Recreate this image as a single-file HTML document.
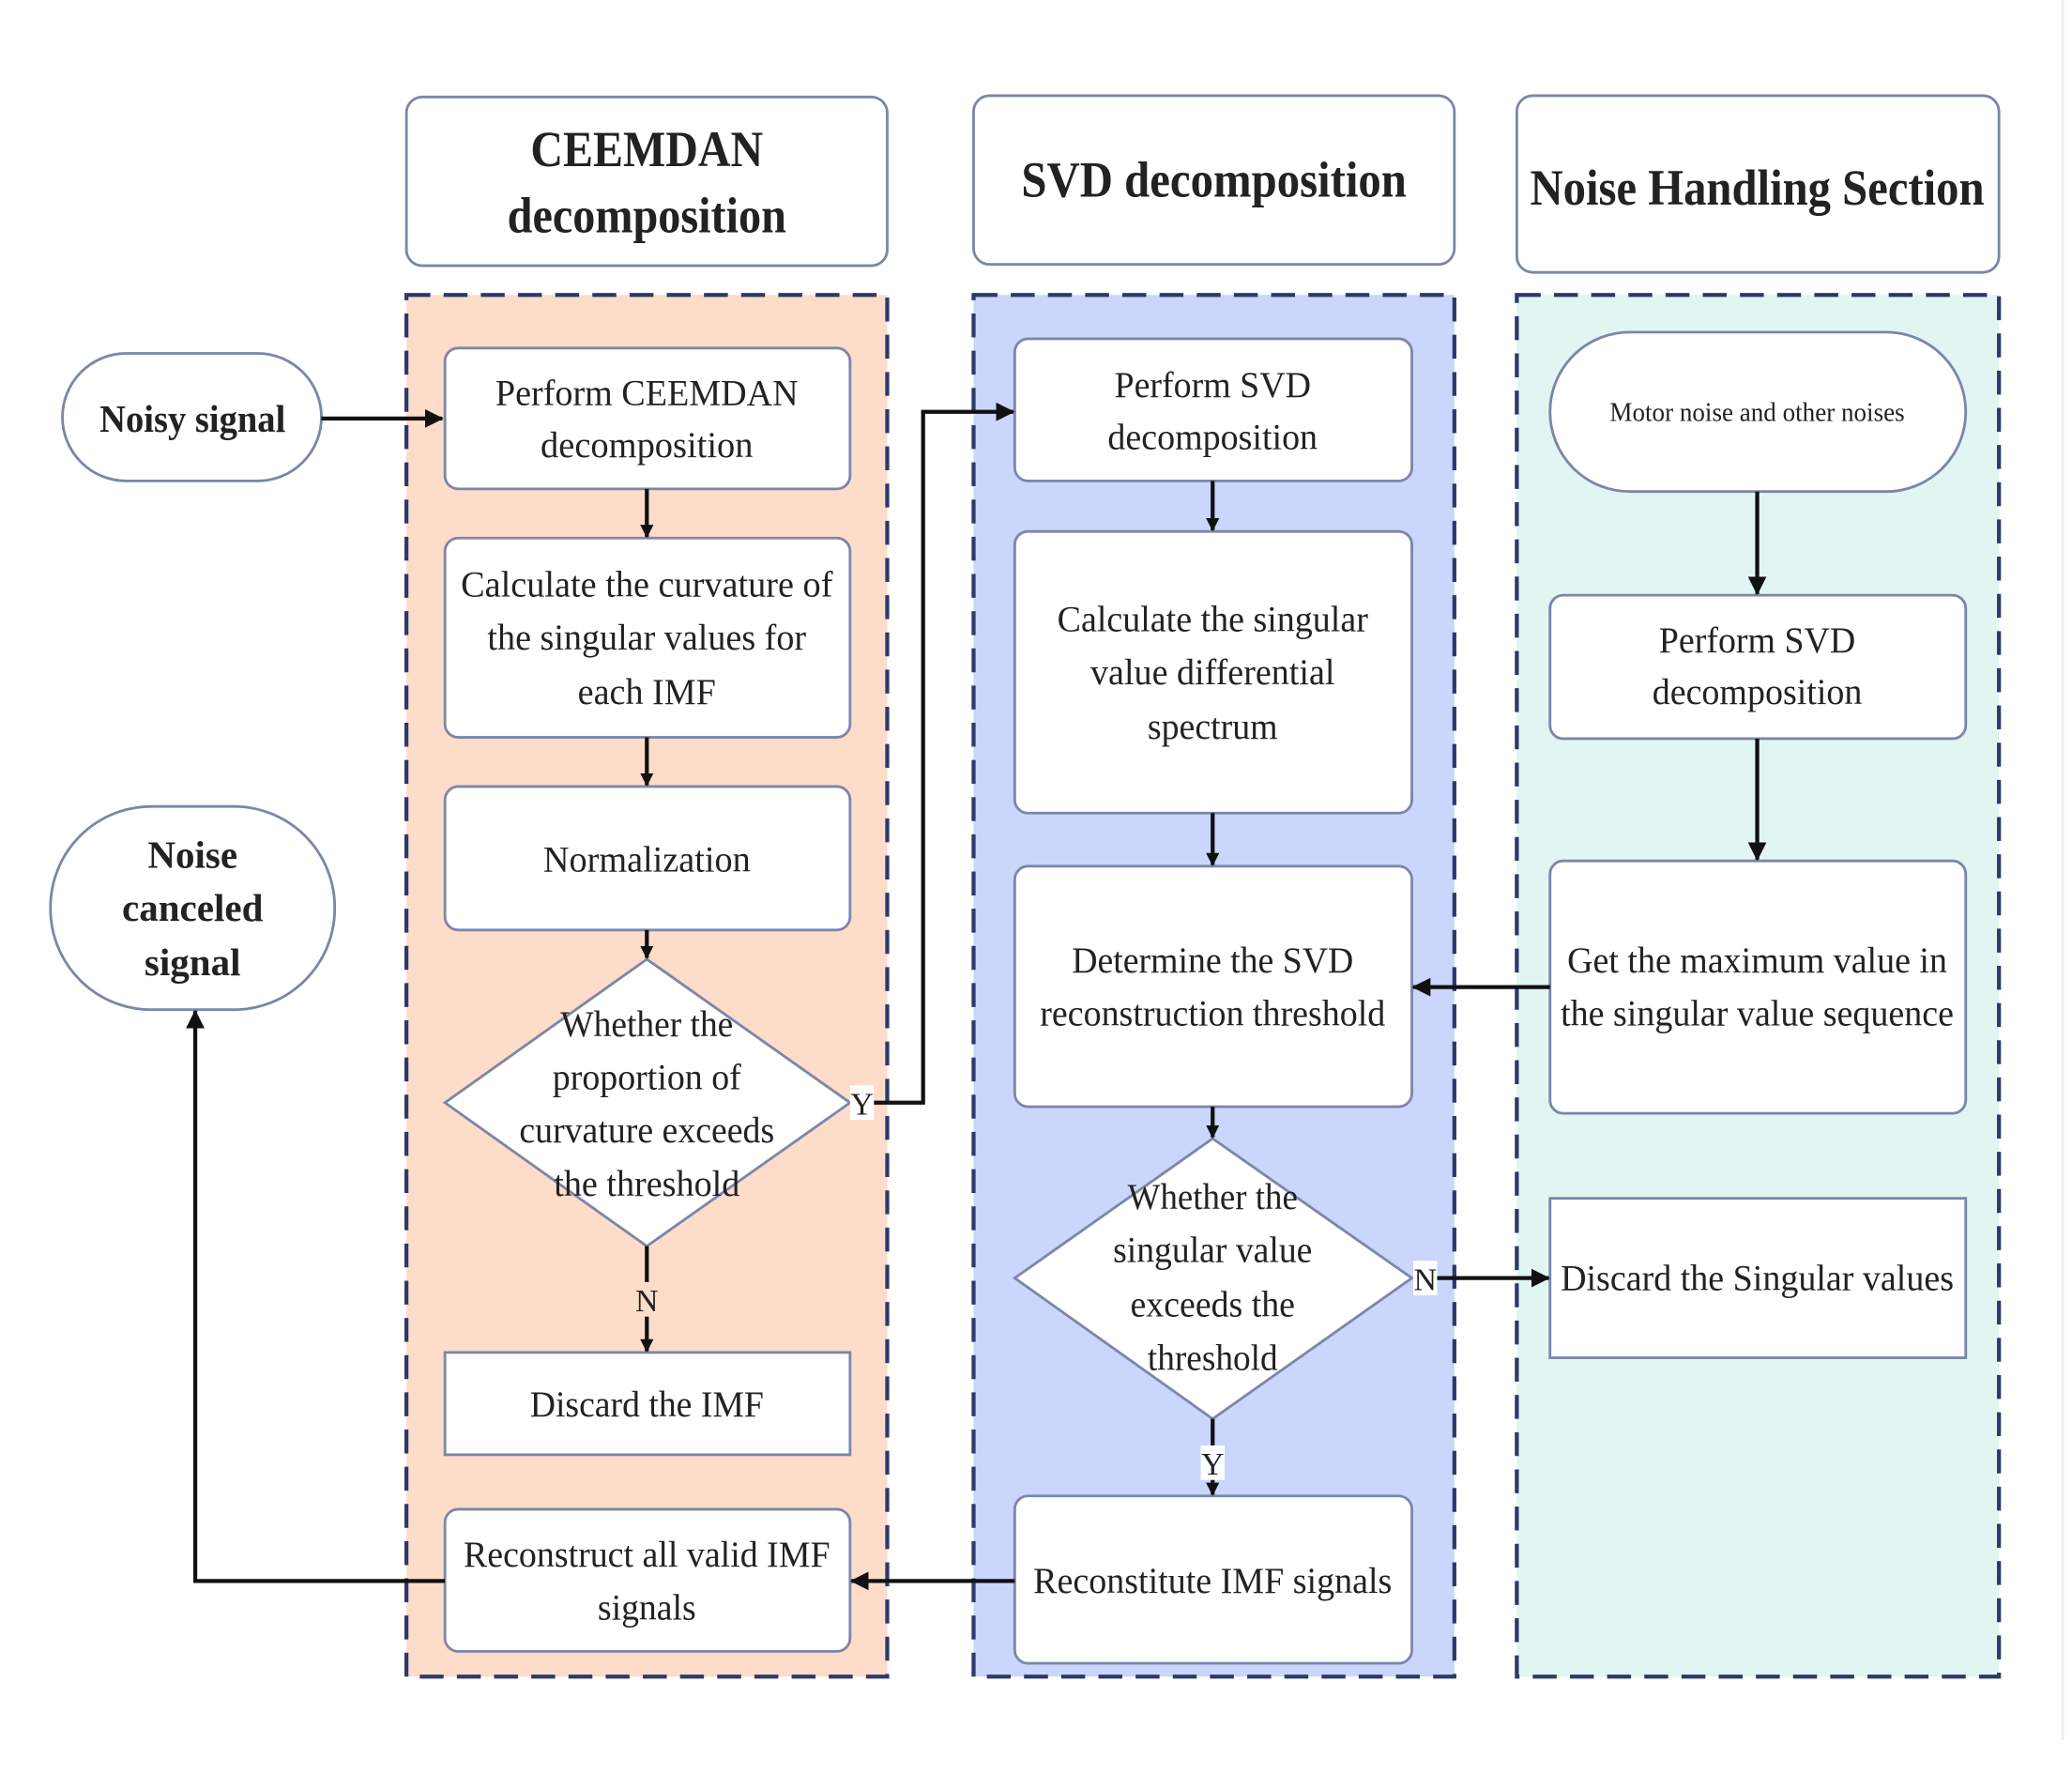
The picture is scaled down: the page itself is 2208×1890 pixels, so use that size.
<!DOCTYPE html>
<html><head><meta charset="utf-8"><style>
html,body{margin:0;padding:0;background:#fff;}
svg{display:block;}
text{font-family:"Liberation Serif",serif;fill:#222;}
</style></head><body>
<svg width="2208" height="1890" viewBox="0 0 1560 1335.3" preserveAspectRatio="none" xmlns="http://www.w3.org/2000/svg">
<defs>
<marker id="a" markerWidth="10" markerHeight="10" refX="9" refY="5" orient="auto" markerUnits="userSpaceOnUse"><path d="M0,0 L10,5 L0,10 z" fill="#111"/></marker>
<marker id="b" markerWidth="14" markerHeight="14" refX="13" refY="7" orient="auto" markerUnits="userSpaceOnUse"><path d="M0,0 L14,7 L0,14 z" fill="#111"/></marker>
</defs>
<line x1="1553" y1="0" x2="1553" y2="1310" stroke="#eee" stroke-width="2"/>
<!-- headers -->
<g fill="#fff" stroke="#7c86a8" stroke-width="2">
<rect x="306" y="73" width="362" height="127" rx="12"/>
<rect x="733" y="72" width="362" height="127" rx="12"/>
<rect x="1142" y="72" width="363" height="133" rx="12"/>
</g>
<g font-weight="bold" font-size="38" text-anchor="middle">
<text x="487" y="125" textLength="175" lengthAdjust="spacingAndGlyphs">CEEMDAN</text>
<text x="487" y="175" textLength="210" lengthAdjust="spacingAndGlyphs">decomposition</text>
<text x="914" y="148" textLength="290" lengthAdjust="spacingAndGlyphs">SVD decomposition</text>
<text x="1323" y="154" textLength="342" lengthAdjust="spacingAndGlyphs">Noise Handling Section</text>
</g>
<!-- panels -->
<g stroke="#2c3a6a" stroke-width="3" stroke-dasharray="18,10">
<rect x="306" y="222" width="362" height="1040" fill="#fddcc9"/>
<rect x="733" y="222" width="362" height="1040" fill="#cad6fb"/>
<rect x="1142" y="222" width="363" height="1040" fill="#e1f5f2"/>
</g>
<!-- nodes -->
<g fill="#fff" stroke="#7c86a8" stroke-width="2">
<rect x="47" y="266" width="195" height="96" rx="48"/>
<rect x="38" y="607" width="214" height="153" rx="76"/>
<rect x="335" y="262" width="305" height="106" rx="10"/>
<rect x="335" y="405" width="305" height="150" rx="10"/>
<rect x="335" y="592" width="305" height="108" rx="10"/>
<polygon points="487,722 640,830 487,938 335,830"/>
<rect x="335" y="1018" width="305" height="77"/>
<rect x="335" y="1136" width="305" height="107" rx="10"/>
<rect x="764" y="255" width="299" height="107" rx="10"/>
<rect x="764" y="400" width="299" height="212" rx="10"/>
<rect x="764" y="652" width="299" height="181" rx="10"/>
<polygon points="913,857 1063,962 913,1068 764,962"/>
<rect x="764" y="1126" width="299" height="126" rx="10"/>
<rect x="1167" y="250" width="313" height="120" rx="60"/>
<rect x="1167" y="448" width="313" height="108" rx="10"/>
<rect x="1167" y="648" width="313" height="190" rx="10"/>
<rect x="1167" y="902" width="313" height="120"/>
</g>
<!-- connectors -->
<g stroke="#111" stroke-width="3" fill="none">
<line x1="242" y1="315" x2="333" y2="315" marker-end="url(#b)"/>
<line x1="487" y1="368" x2="487" y2="404" marker-end="url(#a)"/>
<line x1="487" y1="555" x2="487" y2="591" marker-end="url(#a)"/>
<line x1="487" y1="700" x2="487" y2="721" marker-end="url(#a)"/>
<line x1="487" y1="938" x2="487" y2="1017" marker-end="url(#a)"/>
<polyline points="655,830 695,830 695,310 763,310" marker-end="url(#b)"/>
<line x1="913" y1="362" x2="913" y2="399" marker-end="url(#a)"/>
<line x1="913" y1="612" x2="913" y2="651" marker-end="url(#a)"/>
<line x1="913" y1="833" x2="913" y2="856" marker-end="url(#a)"/>
<line x1="913" y1="1068" x2="913" y2="1125" marker-end="url(#a)"/>
<line x1="1167" y1="743" x2="1064" y2="743" marker-end="url(#b)"/>
<line x1="1080" y1="962" x2="1166" y2="962" marker-end="url(#b)"/>
<line x1="764" y1="1190" x2="641" y2="1190" marker-end="url(#b)"/>
<polyline points="335,1190 147,1190 147,761" marker-end="url(#b)"/>
<line x1="1323" y1="370" x2="1323" y2="447" marker-end="url(#b)"/>
<line x1="1323" y1="556" x2="1323" y2="647" marker-end="url(#b)"/>
</g>
<!-- labels -->
<g font-size="24" text-anchor="middle">
<rect x="640" y="817" width="18" height="26" fill="#fff"/><text x="649" y="839">Y</text>
<rect x="478" y="965" width="18" height="26" fill="#fddcc9"/><text x="487" y="987">N</text>
<rect x="1064" y="949" width="18" height="26" fill="#fff"/><text x="1073" y="971">N</text>
<rect x="904" y="1088" width="18" height="26" fill="#fff"/><text x="913" y="1110">Y</text>
</g>
<g font-weight="bold" font-size="29" text-anchor="middle">
<text x="145" y="325" textLength="140" lengthAdjust="spacingAndGlyphs">Noisy signal</text>
<text x="145" y="653">Noise</text>
<text x="145" y="693">canceled</text>
<text x="145" y="734">signal</text>
</g>
<g font-size="28" text-anchor="middle" fill="#333">
<text x="487" y="305" textLength="228" lengthAdjust="spacingAndGlyphs">Perform CEEMDAN</text>
<text x="487" y="344" textLength="160" lengthAdjust="spacingAndGlyphs">decomposition</text>
<text x="487" y="449" textLength="280" lengthAdjust="spacingAndGlyphs">Calculate the curvature of</text>
<text x="487" y="489" textLength="240" lengthAdjust="spacingAndGlyphs">the singular values for</text>
<text x="487" y="530" textLength="104" lengthAdjust="spacingAndGlyphs">each IMF</text>
<text x="487" y="656" textLength="156" lengthAdjust="spacingAndGlyphs">Normalization</text>
<text x="487" y="780" textLength="130" lengthAdjust="spacingAndGlyphs">Whether the</text>
<text x="487" y="820" textLength="142" lengthAdjust="spacingAndGlyphs">proportion of</text>
<text x="487" y="860" textLength="192" lengthAdjust="spacingAndGlyphs">curvature exceeds</text>
<text x="487" y="900" textLength="140" lengthAdjust="spacingAndGlyphs">the threshold</text>
<text x="487" y="1066" textLength="176" lengthAdjust="spacingAndGlyphs">Discard the IMF</text>
<text x="487" y="1179" textLength="276" lengthAdjust="spacingAndGlyphs">Reconstruct all valid IMF</text>
<text x="487" y="1219" textLength="74" lengthAdjust="spacingAndGlyphs">signals</text>
<text x="913" y="299" textLength="148" lengthAdjust="spacingAndGlyphs">Perform SVD</text>
<text x="913" y="338" textLength="158" lengthAdjust="spacingAndGlyphs">decomposition</text>
<text x="913" y="475" textLength="234" lengthAdjust="spacingAndGlyphs">Calculate the singular</text>
<text x="913" y="515" textLength="184" lengthAdjust="spacingAndGlyphs">value differential</text>
<text x="913" y="556" textLength="98" lengthAdjust="spacingAndGlyphs">spectrum</text>
<text x="913" y="732" textLength="212" lengthAdjust="spacingAndGlyphs">Determine the SVD</text>
<text x="913" y="772" textLength="260" lengthAdjust="spacingAndGlyphs">reconstruction threshold</text>
<text x="913" y="910" textLength="128" lengthAdjust="spacingAndGlyphs">Whether the</text>
<text x="913" y="950" textLength="150" lengthAdjust="spacingAndGlyphs">singular value</text>
<text x="913" y="991" textLength="124" lengthAdjust="spacingAndGlyphs">exceeds the</text>
<text x="913" y="1031" textLength="98" lengthAdjust="spacingAndGlyphs">threshold</text>
<text x="913" y="1199" textLength="270" lengthAdjust="spacingAndGlyphs">Reconstitute IMF signals</text>
<text x="1323" y="491" textLength="148" lengthAdjust="spacingAndGlyphs">Perform SVD</text>
<text x="1323" y="530" textLength="158" lengthAdjust="spacingAndGlyphs">decomposition</text>
<text x="1323" y="732" textLength="286" lengthAdjust="spacingAndGlyphs">Get the maximum value in</text>
<text x="1323" y="772" textLength="296" lengthAdjust="spacingAndGlyphs">the singular value sequence</text>
<text x="1323" y="971" textLength="296" lengthAdjust="spacingAndGlyphs">Discard the Singular values</text>
</g>
<text x="1323" y="317" font-size="20" text-anchor="middle" fill="#444" textLength="222" lengthAdjust="spacingAndGlyphs">Motor noise and other noises</text>
</svg>
</body></html>
